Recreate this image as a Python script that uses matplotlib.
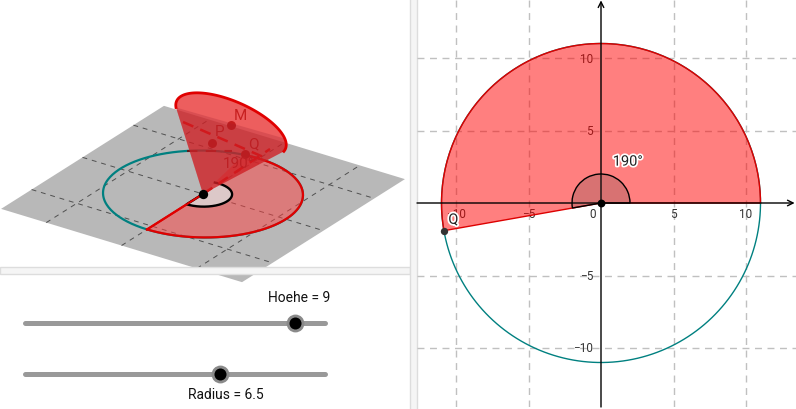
import numpy as np
import matplotlib
matplotlib.use("Agg")
import matplotlib.pyplot as plt
from matplotlib.patches import Polygon, Wedge, Circle, Rectangle
import matplotlib.patheffects as pe

plt.rcParams['font.family'] = ['Roboto', 'DejaVu Sans']

# values of the construction
hoehe = 9
radius = 6.5
slant = 11
angle_deg = 190
arc_r = 2
arc_r_3d = 3.2
slider_min = 0
slider_max = 10
x_ticks = [-10, -5, 5, 10]
y_ticks = [-10, -5, 5, 10]
plane_grid = [-10, 0, 10]
plane_half = 16

# 3d view (screen pixels)
origin_px = (203, 195)
ex_px = (5.09, -3.22)
ey_px = (7.53, 2.29)
cone_m = (231, 126)
cone_a = (55, 17.5)
cone_b = (-5, -27)
point_p = (212, 144)
point_q = (245, 155)
dash_line = ([183, 268], [123, 160])
dash_line2 = ([203, 270], [195, 150])
hidden_circle = ([187, 232], [152, 152])

RED = '#e00000'
TEAL = '#008080'


def proj(u, v):
    u = np.asarray(u, dtype=float)
    v = np.asarray(v, dtype=float)
    return origin_px[0] + u * ex_px[0] + v * ey_px[0], origin_px[1] + u * ex_px[1] + v * ey_px[1]


fig = plt.figure(figsize=(7.96, 4.10), dpi=100)

# whole figure in pixels, for the 3d view and the sliders
bg = fig.add_axes([0, 0, 1, 1])
bg.set_xlim(0, 796)
bg.set_ylim(410, 0)
bg.axis('off')

# plane
px, py = proj([-plane_half, plane_half, plane_half, -plane_half], [-plane_half, -plane_half, plane_half, plane_half])
bg.add_patch(Polygon(np.column_stack([px, py]), color='#b8b8b8', lw=0, zorder=1))
for g in plane_grid:
    gx, gy = proj([g, g], [-plane_half, plane_half])
    bg.plot(gx, gy, color='#505050', lw=0.7, ls=(0, (5, 5)), zorder=2)
    gx, gy = proj([-plane_half, plane_half], [g, g])
    bg.plot(gx, gy, color='#505050', lw=0.7, ls=(0, (5, 5)), zorder=2)

# circle and sector on the plane
t = np.radians(np.linspace(0, 360, 300))
cx, cy = proj(slant * np.cos(t), slant * np.sin(t))
bg.plot(cx, cy, color=TEAL, lw=1.6, zorder=3)

t = np.radians(np.linspace(180, 180 - angle_deg, 200))
sx, sy = proj(slant * np.cos(t), slant * np.sin(t))
sector = np.column_stack([np.r_[origin_px[0], sx], np.r_[origin_px[1], sy]])
bg.add_patch(Polygon(sector, facecolor='#ff4040', alpha=0.5, lw=0, zorder=4))
bg.plot(sx, sy, color=RED, lw=1.6, zorder=5)
bg.plot([origin_px[0], sx[0]], [origin_px[1], sy[0]], color=RED, lw=1.6, zorder=5)

# small angle on the plane
ax_, ay_ = proj(arc_r_3d * np.cos(t), arc_r_3d * np.sin(t))
bg.add_patch(Polygon(np.column_stack([np.r_[origin_px[0], ax_], np.r_[origin_px[1], ay_]]),
                     facecolor='#dcc8c8', lw=0, zorder=6))
bg.plot(np.r_[origin_px[0], ax_], np.r_[origin_px[1], ay_], color='black', lw=1.7, zorder=7)
bg.plot([origin_px[0], sx[0]], [origin_px[1], sy[0]], color=RED, lw=1.4, zorder=7)

# things inside the cone
bg.plot(*hidden_circle, color='#5a2020', lw=1.5, ls=(0, (5, 4)), zorder=8)
bg.plot(*dash_line, color='#d80000', lw=1.8, ls=(0, (4.5, 3)), zorder=8)
bg.plot(*dash_line2, color='#d80000', lw=1.8, ls=(0, (4.5, 3)), zorder=8)
bg.scatter([cone_m[0], point_p[0], point_q[0]], [cone_m[1], point_p[1], point_q[1]],
           s=42, color='#701818', lw=0, zorder=9)
for s, x, y, fs in [('M', 240, 116, 11), ('P', 219, 132, 11), ('Q', 253, 144, 11), ('190°', 239, 164, 11)]:
    bg.text(x, y, s, fontsize=fs, color='#7a2020', ha='center', va='center', zorder=9)

# cone
t = np.radians(np.linspace(-22, 180, 120))
rx = cone_m[0] + cone_a[0] * np.cos(t) + cone_b[0] * np.sin(t)
ry = cone_m[1] + cone_a[1] * np.cos(t) + cone_b[1] * np.sin(t)
bg.add_patch(Polygon(np.column_stack([np.r_[origin_px[0], rx], np.r_[origin_px[1], ry]]),
                     facecolor='#e62020', alpha=0.72, lw=0, zorder=10))
t2 = np.radians(np.linspace(-22, 8, 20))
dx = cone_m[0] + cone_a[0] * np.cos(t2) + cone_b[0] * np.sin(t2)
dy = cone_m[1] + cone_a[1] * np.cos(t2) + cone_b[1] * np.sin(t2)
bg.add_patch(Polygon(np.column_stack([np.r_[origin_px[0], rx[-1], dx[::-1]], np.r_[origin_px[1], ry[-1], dy[::-1]]]),
                     facecolor='#a02030', alpha=0.25, lw=0, zorder=11))
bg.plot(rx, ry, color=RED, lw=2, zorder=12)
bg.scatter([origin_px[0]], [origin_px[1]], s=45, color='black', lw=0, zorder=13)

# dividers
bg.add_patch(Rectangle((0, 268), 410, 7, facecolor='#f5f5f5', edgecolor='#dddddd', lw=1, zorder=14))
bg.add_patch(Rectangle((409.5, -1), 7, 412, facecolor='#f5f5f5', edgecolor='#dddddd', lw=1, zorder=15))

# sliders
track_x0 = 25
px_per_unit = 30
for val, y in [(hoehe, 324), (radius, 374.5)]:
    bg.plot([track_x0, track_x0 + px_per_unit * (slider_max - slider_min)], [y, y],
            color='#999999', lw=3.6, solid_capstyle='round', zorder=3)
    kx = track_x0 + px_per_unit * (val - slider_min)
    bg.scatter([kx], [y], s=165, color='#8a8a8a', lw=0, zorder=4)
    bg.scatter([kx], [y], s=75, color='black', lw=0, zorder=5)
bg.text(299.5, 298, 'Hoehe = %g' % hoehe, fontsize=10, ha='center', va='center', color='#111111')
bg.text(226, 395, 'Radius = %g' % radius, fontsize=10, ha='center', va='center', color='#111111')

# 2d view on the right
scale = 14.5
ax = fig.add_axes([417 / 796, 2 / 410, 379 / 796, 408 / 410])
ax.set_xlim((417 - 601) / scale, (796 - 601) / scale)
ax.set_ylim((204 - 408) / scale, 204 / scale)
ax.axis('off')

for v in x_ticks:
    ax.plot([v, v], ax.get_ylim(), color='#c0c0c0', lw=1, ls=(0, (5, 4)), zorder=1)
    ax.text(v, -0.75, str(v).replace('-', '−'), fontsize=8.5, color='#333333', ha='center', va='center', zorder=2)
for v in y_ticks:
    ax.plot(ax.get_xlim(), [v, v], color='#c0c0c0', lw=1, ls=(0, (5, 4)), zorder=1)
    ax.text(-0.55, v, str(v).replace('-', '−'), fontsize=8.5, color='#333333', ha='right', va='center', zorder=2)
ax.text(-0.55, -0.75, '0', fontsize=8.5, color='#333333', ha='center', va='center', zorder=2)

t = np.radians(np.linspace(0, 360, 400))
ax.plot(slant * np.cos(t), slant * np.sin(t), color=TEAL, lw=1, zorder=3)
ax.add_patch(Wedge((0, 0), slant, 0, angle_deg, facecolor='#ff0000', alpha=0.5, lw=0, zorder=4))
ax.add_patch(Wedge((0, 0), slant, 0, angle_deg, facecolor='none', edgecolor='#dd0000', lw=1, zorder=5))

ax.annotate('', xy=(ax.get_xlim()[1], 0), xytext=(ax.get_xlim()[0], 0),
            arrowprops=dict(arrowstyle='->', color='black', lw=1, shrinkA=0, shrinkB=1), zorder=6)
ax.annotate('', xy=(0, ax.get_ylim()[1]), xytext=(0, ax.get_ylim()[0]),
            arrowprops=dict(arrowstyle='->', color='black', lw=1, shrinkA=0, shrinkB=1), zorder=6)

ax.add_patch(Wedge((0, 0), arc_r, 0, angle_deg, facecolor='#404040', alpha=0.2, lw=0, zorder=7))
ax.add_patch(Wedge((0, 0), arc_r, 0, angle_deg, facecolor='none', edgecolor='black', lw=1, zorder=8))

q_x = slant * np.cos(np.radians(angle_deg))
q_y = slant * np.sin(np.radians(angle_deg))
halo = [pe.withStroke(linewidth=2.5, foreground='white')]
ax.scatter([0], [0], s=32, color='black', lw=0, zorder=9)
ax.scatter([q_x], [q_y], s=28, color='#333333', lw=0, zorder=9)
ax.text(q_x + 0.65, q_y + 0.75, 'Q', fontsize=10.5, color='#222222', ha='center', va='center', zorder=10, path_effects=halo)
ax.text(1.85, 2.85, '190°', fontsize=10.5, color='#222222', ha='center', va='center', zorder=10, path_effects=halo)

fig.savefig('out.png', dpi=100)
